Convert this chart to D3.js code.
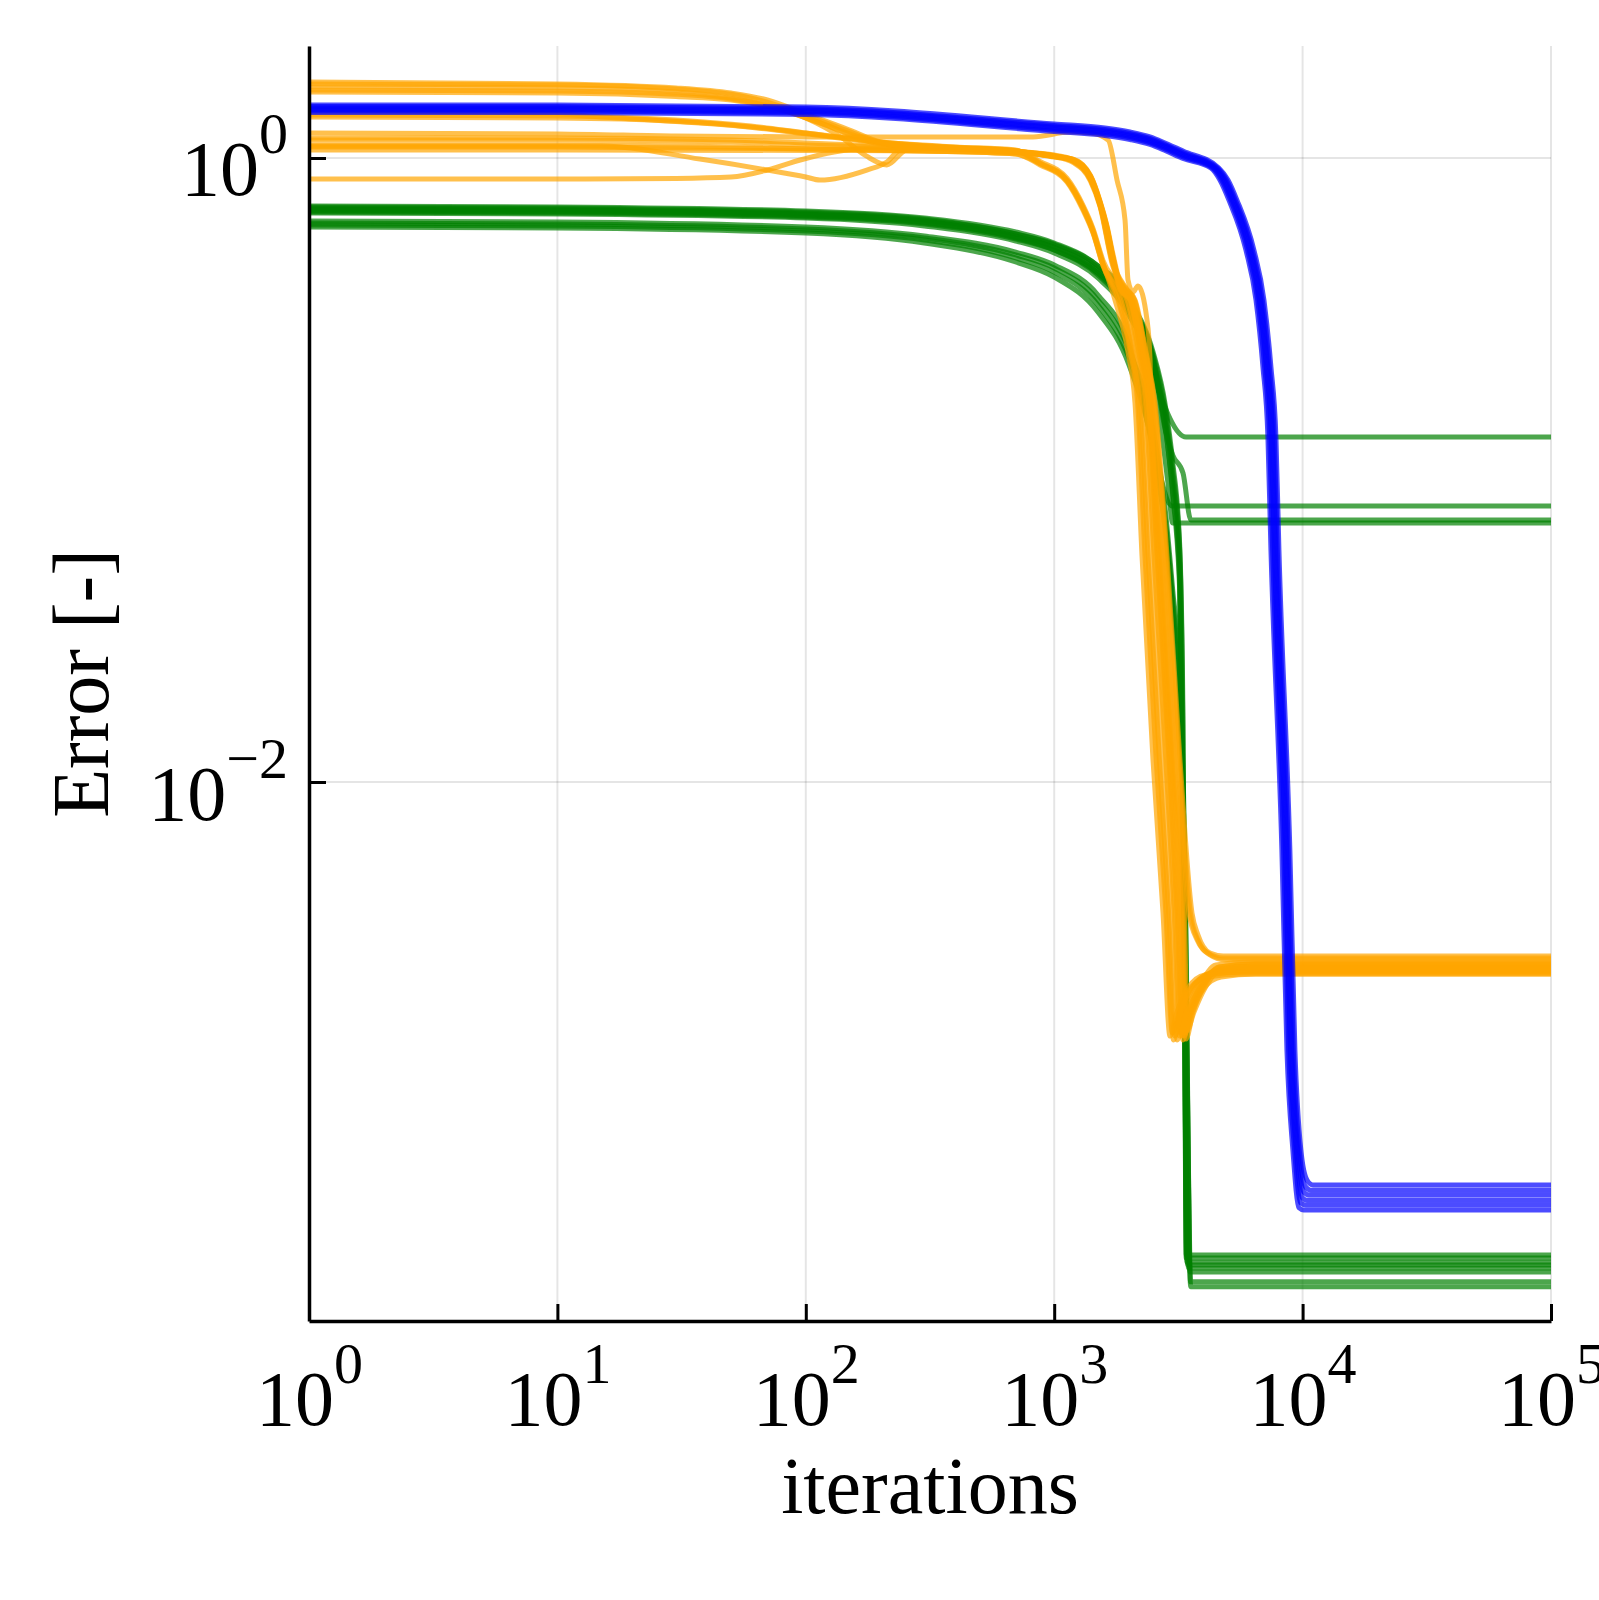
<!DOCTYPE html>
<html>
<head>
<meta charset="utf-8">
<script src="https://cdn.jsdelivr.net/npm/d3@7"></script>
<style>
  body { margin: 0; background: #fff; }
  text { font-family: "Liberation Serif", "DejaVu Serif", serif; fill: #000; }
</style>
</head>
<body>
<div id="chart"></div>
<script>
// Axis ticks and limits
const xTickValues = [1, 10, 100, 1000, 10000, 100000];
const xTickExps = ['0', '1', '2', '3', '4', '5'];
const yTickValues = [1, 0.01];
const yTickExps = ['0', '\u22122'];
const xLimits = [1, 100000];
const yLimits = [1.873e-4, 2.285];

// Runs: [iterations, error]
const blueRuns = [
    [[1,1.479],[10,1.479],[100,1.457],[1000,1.285],[1600,1.248],[2020,1.211],[2430,1.168],[2794,1.117],[3300,1.053],[4600,0.929],[5006,0.850],[5440,0.733],[6367,0.507],[6989,0.3506],[7456,0.2138],[7809,0.1276],[8030,0.0554],[8887,0.00605],[9312,0.001384],[9841,0.000661],[10411,0.000530],[11000,0.000511],[100000,0.000511]],
    [[1,1.463],[10,1.463],[100,1.441],[1000,1.271],[1600,1.234],[2020,1.198],[2430,1.155],[2794,1.105],[3300,1.041],[4534,0.929],[4933,0.850],[5361,0.733],[6275,0.507],[6888,0.3506],[7348,0.2138],[7696,0.1276],[7913,0.0554],[8759,0.00605],[9178,0.001384],[9699,0.000661],[10261,0.000505],[10800,0.000492],[100000,0.000492]],
    [[1,1.446],[10,1.446],[100,1.425],[1000,1.257],[1600,1.221],[2020,1.185],[2430,1.142],[2794,1.093],[3300,1.030],[4467,0.929],[4861,0.850],[5283,0.733],[6183,0.507],[6787,0.3506],[7240,0.2138],[7583,0.1276],[7797,0.0554],[8630,0.00605],[9043,0.001384],[9556,0.000661],[10110,0.000485],[10600,0.000475],[100000,0.000475]],
    [[1,1.430],[10,1.430],[100,1.409],[1000,1.243],[1600,1.207],[2020,1.172],[2430,1.129],[2794,1.081],[3300,1.019],[4405,0.929],[4793,0.850],[5209,0.733],[6097,0.507],[6693,0.3506],[7140,0.2138],[7477,0.1276],[7689,0.0554],[8510,0.00605],[8917,0.001384],[9424,0.000661],[9970,0.000465],[10400,0.000457],[100000,0.000457]],
    [[1,1.415],[10,1.415],[100,1.394],[1000,1.229],[1600,1.194],[2020,1.159],[2430,1.117],[2794,1.069],[3300,1.007],[4338,0.929],[4721,0.850],[5131,0.733],[6005,0.507],[6592,0.3506],[7032,0.2138],[7364,0.1276],[7573,0.0554],[8381,0.00605],[8782,0.001384],[9281,0.000661],[9819,0.000448],[10300,0.000441],[100000,0.000441]],
    [[1,1.399],[10,1.399],[100,1.379],[1000,1.216],[1600,1.181],[2020,1.146],[2430,1.105],[2794,1.057],[3300,0.996],[4272,0.929],[4648,0.850],[5052,0.733],[5913,0.507],[6491,0.3506],[6924,0.2138],[7251,0.1276],[7457,0.0554],[8253,0.00605],[8648,0.001384],[9139,0.000661],[9669,0.000432],[10100,0.000425],[100000,0.000425]]
];

const greenRuns = [
    [[1,0.6966],[10,0.6914],[100,0.6713],[300,0.6375],[700,0.5707],[1000,0.5262],[1500,0.4440],[2000,0.3454],[2500,0.2336],[2800,0.1557],[3000,0.1000],[3200,0.0554],[3300,0.01267],[3350,0.00200],[3400,0.000298],[100000,0.000298]],
    [[1,0.6864],[10,0.6813],[100,0.6615],[300,0.6282],[700,0.5623],[1000,0.5185],[1500,0.4343],[2000,0.3354],[2500,0.2252],[2800,0.1468],[3000,0.0929],[3200,0.0496],[3300,0.00876],[3370,0.000957],[3420,0.000289],[100000,0.000289]],
    [[1,0.6763],[10,0.6713],[100,0.6518],[300,0.6190],[700,0.5541],[1000,0.5071],[1500,0.4217],[2000,0.3208],[2500,0.2123],[2800,0.1364],[3000,0.0863],[3200,0.0444],[3300,0.00605],[3380,0.000661],[3450,0.000283],[100000,0.000283]],
    [[1,0.6914],[10,0.6864],[100,0.6664],[300,0.6328],[700,0.5707],[1000,0.5301],[1500,0.4506],[2000,0.3558],[2455,0.2091],[3393,0.1276],[100000,0.1276]],
    [[1,0.6713],[10,0.6664],[100,0.6470],[300,0.6145],[700,0.5500],[1000,0.5071],[1500,0.4280],[2000,0.3354],[2500,0.2286],[2800,0.1343],[3000,0.1117],[3300,0.0978],[3550,0.0691],[100000,0.0691]],
    [[1,0.6664],[10,0.6615],[100,0.6422],[300,0.6055],[700,0.5420],[1000,0.4960],[1500,0.4125],[2000,0.3139],[2500,0.2016],[2871,0.0908],[3000,0.0676],[100000,0.0676]],
    [[1,0.6282],[10,0.6236],[100,0.6009],[300,0.5623],[700,0.4995],[1000,0.4540],[1500,0.3638],[2000,0.2515],[2500,0.1203],[2979,0.0767],[100000,0.0767]],
    [[1,0.6190],[10,0.6145],[100,0.5921],[300,0.5541],[700,0.4888],[1000,0.4440],[1500,0.3506],[2000,0.2424],[2500,0.1343],[2800,0.0744],[3000,0.0412],[3200,0.0220],[3350,0.0060],[3450,0.00080],[3520,0.000269],[100000,0.000269]],
    [[1,0.6100],[10,0.6055],[100,0.5834],[300,0.5460],[700,0.4781],[1000,0.4311],[1500,0.3379],[2000,0.2286],[2500,0.1248],[2800,0.0691],[3000,0.0383],[3200,0.0190],[3350,0.0050],[3480,0.00050],[3540,0.000250],[100000,0.000250]],
    [[1,0.6009],[10,0.5965],[100,0.5749],[300,0.5340],[700,0.4642],[1000,0.4155],[1500,0.3208],[2000,0.2170],[2500,0.1159],[2800,0.0642],[3000,0.0356],[3200,0.0170],[3400,0.0030],[3500,0.00030],[3550,0.000241],[100000,0.000241]],
    [[1,0.7018],[10,0.6966],[100,0.6763],[300,0.6422],[700,0.5791],[1000,0.5340],[1500,0.4506],[2000,0.3506],[2500,0.2388],[2800,0.1615],[3000,0.1061],[3200,0.0575],[3300,0.0158],[3360,0.001384],[3400,0.000305],[100000,0.000305]],
    [[1,0.6813],[10,0.6763],[100,0.6566],[300,0.6236],[700,0.5582],[1000,0.5147],[1500,0.4280],[2000,0.3281],[2500,0.2170],[2800,0.1394],[3000,0.0832],[3200,0.0412],[3300,0.00755],[3400,0.000957],[3470,0.000277],[100000,0.000277]]
];

const orangeRuns = [
    [[1,1.752],[10,1.727],[30,1.677],[50,1.615],[70,1.534],[100,1.384],[150,1.229],[200,1.125],[300,1.085],[500,1.061],[700,1.045],[1000,1.022],[1200,0.985],[1400,0.869],[1528,0.717],[1632,0.588],[1726,0.471],[1841,0.3831],[2020,0.3506],[2215,0.2388],[2386,0.1639],[2593,0.0530],[2899,0.01176],[3121,0.003803],[3269,0.001534],[3489,0.001832],[3864,0.002186],[4523,0.002515],[6256,0.002572],[100000,0.002572]],
    [[1,1.689],[10,1.677],[30,1.627],[50,1.557],[70,1.479],[100,1.343],[140,1.159],[175,1.015],[212,0.950],[255,1.061],[400,1.077],[700,1.053],[1000,1.015],[1200,0.978],[1400,0.875],[1528,0.725],[1632,0.600],[1726,0.480],[1841,0.390],[1991,0.3506],[2191,0.2388],[2358,0.1639],[2558,0.0530],[2856,0.01176],[3082,0.003803],[3234,0.00157],[3450,0.001832],[3821,0.002186],[4473,0.002591],[6187,0.002649],[100000,0.002649]],
    [[1,1.627],[10,1.615],[30,1.574],[50,1.534],[80,1.425],[120,1.276],[170,1.142],[250,1.085],[400,1.069],[700,1.045],[1000,1.015],[1200,0.971],[1400,0.850],[1528,0.707],[1726,0.454],[1950,0.380],[2115,0.3506],[2342,0.2388],[2546,0.1639],[2846,0.0530],[3209,0.01176],[3587,0.003803],[3793,0.003233],[4239,0.00283],[4791,0.00277],[100000,0.00277]],
    [[1,1.374],[10,1.364],[30,1.324],[60,1.266],[100,1.202],[200,1.125],[400,1.085],[700,1.061],[877,0.964],[1127,0.850],[1306,0.697],[1432,0.588],[1571,0.4608],[1757,0.3506],[1982,0.2388],[2115,0.1639],[2257,0.0530],[2499,0.01176],[2742,0.003803],[2926,0.001534],[3121,0.001832],[3456,0.002186],[4047,0.002406],[5598,0.002460],[100000,0.002460]],
    [[1,1.202],[10,1.194],[30,1.176],[100,1.168],[300,1.168],[822,1.168],[1159,1.211],[1400,1.202],[1648,1.142],[1790,0.850],[1928,0.633],[1982,0.4064],[2075,0.372],[2175,0.389],[2364,0.3025],[2432,0.2252],[2449,0.1639],[2692,0.0530],[3019,0.01176],[3300,0.003803],[3393,0.00150],[3622,0.001832],[4010,0.002186],[4693,0.002371],[6491,0.002424],[100000,0.002424]],
    [[1,1.159],[10,1.159],[50,1.142],[100,1.117],[200,1.093],[400,1.077],[700,1.053],[1000,1.007],[1200,0.985],[1400,0.863],[1528,0.707],[1632,0.580],[1726,0.462],[1841,0.378],[2029,0.3506],[2227,0.2388],[2401,0.1639],[2618,0.0530],[2928,0.01176],[3165,0.003803],[3300,0.001489],[3522,0.001832],[3899,0.002186],[4564,0.002478],[6314,0.002534],[100000,0.002534]],
    [[1,1.101],[10,1.101],[50,1.085],[100,1.069],[300,1.053],[700,1.030],[877,0.950],[1127,0.836],[1306,0.680],[1432,0.575],[1571,0.452],[1807,0.3506],[2027,0.2388],[2167,0.1639],[2320,0.0530],[2574,0.01176],[2815,0.003803],[2991,0.00157],[3192,0.001832],[3535,0.002186],[4139,0.002371],[5723,0.002424],[100000,0.002424]],
    [[1,1.093],[10,1.093],[15,1.093],[37.5,0.992],[70,0.915],[100,0.869],[114,0.850],[176,0.915],[212,0.971],[240,1.061],[380,1.077],[700,1.053],[877,0.957],[1127,0.843],[1306,0.690],[1432,0.582],[1571,0.457],[1858,0.3506],[2072,0.2388],[2219,0.1639],[2386,0.0530],[2652,0.01176],[2888,0.003803],[3058,0.001534],[3263,0.001832],[3614,0.002186],[4231,0.002442],[5852,0.002497],[100000,0.002497]],
    [[1,0.856],[10,0.856],[30,0.860],[50,0.869],[70,0.915],[95,0.985],[130,1.045],[180,1.077],[400,1.069],[700,1.045],[1000,1.010],[1200,0.964],[1400,0.843],[1528,0.700],[1726,0.447],[1950,0.376],[2096,0.3506],[2316,0.2388],[2513,0.1639],[2794,0.0530],[3144,0.01176],[3489,0.003803],[3765,0.003115],[4162,0.00283],[4791,0.00273],[100000,0.00273]],
    [[1,1.425],[10,1.384],[15,1.353],[50,1.276],[100,1.202],[200,1.125],[400,1.077],[700,1.053],[1000,1.010],[1200,0.990],[1400,0.875],[1528,0.722],[1632,0.595],[1726,0.476],[1841,0.387],[2038,0.3506],[2240,0.2388],[2416,0.1639],[2642,0.0530],[2958,0.01176],[3209,0.003803],[3330,0.001534],[3553,0.001832],[3936,0.002186],[4606,0.002553],[6372,0.002610],[100000,0.002610]],
    [[1,1.727],[10,1.714],[30,1.664],[50,1.600],[70,1.510],[100,1.370],[150,1.215],[200,1.117],[300,1.080],[500,1.057],[700,1.040],[1000,1.015],[1200,0.975],[1400,0.860],[1528,0.712],[1632,0.592],[1726,0.478],[1841,0.392],[2047,0.3506],[2252,0.2388],[2433,0.1639],[2667,0.0530],[2990,0.01176],[3254,0.003803],[3362,0.00157],[3587,0.001832],[3972,0.002186],[4650,0.002553],[6432,0.002610],[100000,0.002610]],
    [[1,1.353],[10,1.343],[30,1.310],[60,1.255],[100,1.195],[200,1.120],[400,1.082],[700,1.057],[877,0.975],[1127,0.860],[1306,0.705],[1432,0.595],[1571,0.470],[1910,0.3506],[2119,0.2388],[2274,0.1639],[2453,0.0530],[2732,0.01176],[2964,0.003803],[3127,0.001489],[3336,0.001832],[3695,0.002186],[4326,0.002442],[5984,0.002497],[100000,0.002497]],
    [[1,1.142],[10,1.142],[50,1.125],[100,1.101],[200,1.085],[400,1.069],[700,1.049],[1000,1.012],[1200,0.988],[1400,0.880],[1528,0.730],[1632,0.605],[1726,0.490],[1841,0.398],[2066,0.3506],[2278,0.2388],[2465,0.1639],[2716,0.0530],[3050,0.01176],[3346,0.003803],[3425,0.00160],[3654,0.001832],[4047,0.002186],[4736,0.002515],[6552,0.002572],[100000,0.002572]],
    [[1,1.061],[10,1.061],[100,1.057],[300,1.053],[700,1.040],[1000,1.012],[1200,0.975],[1400,0.855],[1528,0.712],[1726,0.460],[1950,0.382],[2106,0.3506],[2329,0.2388],[2529,0.1639],[2820,0.0530],[3177,0.01176],[3537,0.003803],[3793,0.003115],[4239,0.00279],[4870,0.00269],[100000,0.00269]],
    [[1,1.652],[10,1.640],[30,1.600],[50,1.545],[75,1.450],[110,1.310],[160,1.175],[230,1.100],[400,1.073],[700,1.049],[1000,1.018],[1200,0.982],[1400,0.866],[1528,0.720],[1632,0.590],[1726,0.470],[1841,0.385],[1964,0.3506],[2167,0.2388],[2329,0.1639],[2523,0.0530],[2815,0.01176],[3041,0.003803],[3198,0.001534],[3412,0.001832],[3779,0.002186],[4423,0.002478],[6118,0.002534],[100000,0.002534]],
    [[1,1.085],[10,1.085],[100,1.069],[300,1.053],[700,1.030],[877,0.960],[1127,0.845],[1306,0.690],[1432,0.580],[1571,0.455],[1832,0.3506],[2049,0.2388],[2193,0.1639],[2353,0.0530],[2613,0.01176],[2851,0.003803],[3024,0.001489],[3227,0.001832],[3573,0.002186],[4184,0.002406],[5788,0.002460],[100000,0.002460]]
];

// Dimensions
const svgWidth = 1599, svgHeight = 1600;
const margin = { top: 46, right: 48, bottom: 279, left: 309 };
const chartWidth = svgWidth - margin.left - margin.right;
const chartHeight = svgHeight - margin.top - margin.bottom;

const svg = d3.select('#chart')
    .append('svg')
    .attr('width', svgWidth)
    .attr('height', svgHeight);

const chart = svg.append('g')
    .attr('transform', `translate(${margin.left}, ${margin.top})`);

// Scales
const x = d3.scaleLog().domain(xLimits).range([0, chartWidth]);
const y = d3.scaleLog().domain(yLimits).range([chartHeight, 0]);

// Grid
chart.append('g')
    .selectAll('line')
    .data(xTickValues)
    .enter()
    .append('line')
    .attr('x1', d => x(d)).attr('x2', d => x(d))
    .attr('y1', 0).attr('y2', chartHeight)
    .attr('stroke', '#000').attr('stroke-opacity', 0.1).attr('stroke-width', 2);

chart.append('g')
    .selectAll('line')
    .data(yTickValues)
    .enter()
    .append('line')
    .attr('x1', 0).attr('x2', chartWidth)
    .attr('y1', d => y(d)).attr('y2', d => y(d))
    .attr('stroke', '#000').attr('stroke-opacity', 0.1).attr('stroke-width', 2);

// Lines
const line = d3.line()
    .x(d => x(d[0]))
    .y(d => y(d[1]))
    .curve(d3.curveMonotoneX);

function drawRuns(runs, color) {
    chart.append('g')
        .selectAll('path')
        .data(runs)
        .enter()
        .append('path')
        .attr('d', line)
        .attr('fill', 'none')
        .attr('stroke', color)
        .attr('stroke-opacity', 0.7)
        .attr('stroke-width', 5)
        .attr('stroke-linejoin', 'round');
}

drawRuns(greenRuns, '#008000');
drawRuns(orangeRuns, '#FFA500');
drawRuns(blueRuns, '#0000FF');

// Axes
const gx = chart.append('g')
    .attr('transform', `translate(0, ${chartHeight})`)
    .call(d3.axisBottom(x).tickValues(xTickValues).tickSizeInner(-17).tickSizeOuter(0).tickFormat(''));

const gy = chart.append('g')
    .call(d3.axisLeft(y).tickValues(yTickValues).tickSizeInner(-17).tickSizeOuter(0).tickFormat(''));

[gx, gy].forEach(g => {
    g.select('.domain').attr('stroke', '#000').attr('stroke-width', 3.5);
    g.selectAll('.tick line').attr('stroke', '#000').attr('stroke-width', 3);
    g.selectAll('.tick text').remove();
});

// Tick labels: 10^n
gx.selectAll('.tick').each(function (d, i) {
    const t = d3.select(this).append('text')
        .attr('y', 104)
        .attr('text-anchor', 'middle')
        .attr('font-size', 78)
        .attr('fill', '#000');
    t.append('tspan').text('10');
    t.append('tspan').attr('dy', -42).attr('font-size', 58).text(xTickExps[i]);
});

gy.selectAll('.tick').each(function (d, i) {
    const t = d3.select(this).append('text')
        .attr('x', -21)
        .attr('y', 37)
        .attr('text-anchor', 'end')
        .attr('font-size', 78)
        .attr('fill', '#000');
    t.append('tspan').text('10');
    t.append('tspan').attr('dy', -42).attr('font-size', 58).text(yTickExps[i]);
});

// Axis titles
svg.append('text')
    .attr('x', margin.left + chartWidth / 2)
    .attr('y', 1513)
    .attr('text-anchor', 'middle')
    .attr('font-size', 80)
    .text('iterations');

svg.append('text')
    .attr('transform', `translate(108, ${margin.top + chartHeight / 2}) rotate(-90)`)
    .attr('text-anchor', 'middle')
    .attr('font-size', 80)
    .text('Error [-]');
</script>
</body>
</html>
